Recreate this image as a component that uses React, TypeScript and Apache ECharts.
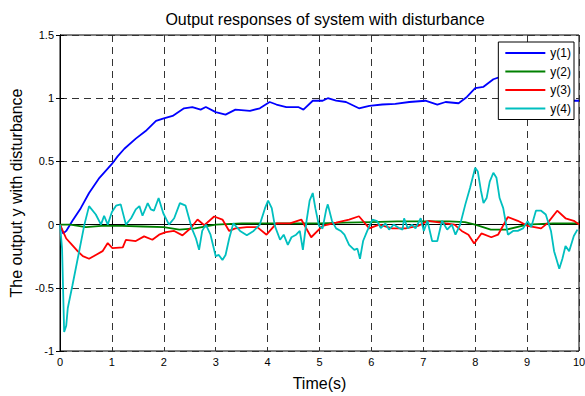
import React, { useEffect, useRef } from "react";
import * as echarts from "echarts";

const seriesNames = ["y(1)", "y(2)", "y(3)", "y(4)"];
const seriesColors = ["#0000ff", "#008000", "#ff0000", "#00bfbf"];
const xTicks = [0, 1, 2, 3, 4, 5, 6, 7, 8, 9, 10];
const yTicks = [-1, -0.5, 0, 0.5, 1, 1.5];

const t1 = [0, 0.06, 0.12, 0.24, 0.4, 0.56, 0.76, 1.0, 1.11, 1.24, 1.46, 1.65, 1.85, 2.0, 2.17, 2.39, 2.55, 2.71, 2.81, 3.0, 3.19, 3.38, 3.66, 3.85, 4.04, 4.17, 4.36, 4.59, 4.69, 4.87, 5.06, 5.16, 5.32, 5.51, 5.76, 5.96, 6.21, 6.46, 6.73, 7.04, 7.27, 7.43, 7.68, 7.84, 8.0, 8.16, 8.35, 8.5, 8.7, 9.0, 9.3, 9.6, 9.8, 10];
const y1 = [0, -0.07, -0.05, 0.03, 0.13, 0.25, 0.37, 0.48, 0.54, 0.6, 0.68, 0.74, 0.82, 0.84, 0.86, 0.92, 0.93, 0.91, 0.93, 0.89, 0.87, 0.91, 0.9, 0.92, 0.97, 0.95, 0.93, 0.93, 0.91, 0.98, 0.98, 1.0, 0.98, 0.97, 0.92, 0.94, 0.95, 0.955, 0.97, 0.98, 0.95, 0.97, 0.96, 1.01, 1.08, 1.09, 1.15, 1.17, 1.15, 1.12, 1.07, 1.02, 0.98, 0.98];

const t2 = [0, 0.2, 0.5, 0.8, 1.2, 1.6, 2.0, 2.3, 2.6, 3.0, 3.5, 4.0, 4.5, 5.0, 5.5, 6.0, 6.5, 7.0, 7.5, 7.8, 8.0, 8.3, 8.6, 9.0, 9.5, 10];
const y2 = [0, 0.0, -0.02, -0.01, -0.01, -0.015, -0.02, -0.04, -0.03, 0.0, 0.01, 0.01, 0.01, 0.01, 0.015, 0.02, 0.025, 0.025, 0.025, 0.02, 0.0, -0.04, -0.04, 0.0, 0.01, 0.01];

const t3 = [0, 0.12, 0.21, 0.34, 0.44, 0.56, 0.69, 0.82, 0.92, 1.01, 1.21, 1.27, 1.46, 1.62, 1.78, 1.91, 2.04, 2.2, 2.36, 2.52, 2.65, 2.78, 2.97, 3.13, 3.26, 3.38, 3.6, 3.8, 3.98, 4.17, 4.43, 4.65, 4.84, 5.06, 5.32, 5.57, 5.76, 5.96, 6.15, 6.4, 6.66, 6.9, 7.1, 7.43, 7.6, 7.74, 7.87, 7.98, 8.12, 8.31, 8.44, 8.63, 8.82, 9.01, 9.27, 9.39, 9.58, 9.74, 9.9, 10];
const y3 = [0, -0.11, -0.15, -0.21, -0.25, -0.27, -0.24, -0.21, -0.146, -0.186, -0.18, -0.12, -0.13, -0.093, -0.12, -0.08, -0.06, -0.05, -0.085, -0.027, 0.04, -0.005, 0.064, 0.04, -0.05, -0.03, -0.02, -0.02, -0.08, 0.01, 0.01, 0.04, -0.1, -0.01, 0.015, 0.04, 0.066, -0.03, 0.0, -0.03, -0.03, -0.01, 0.03, 0.01, 0.0, -0.05, -0.08, -0.15, -0.07, -0.1, -0.08, 0.06, 0.03, -0.01, -0.03, 0.01, 0.11, 0.05, 0.03, 0.0];

const t4 = [0, 0.04, 0.08, 0.12, 0.15, 0.24, 0.37, 0.47, 0.56, 0.69, 0.79, 0.85, 0.92, 1.0, 1.08, 1.17, 1.27, 1.37, 1.46, 1.53, 1.59, 1.69, 1.75, 1.81, 1.9, 1.99, 2.1, 2.2, 2.31, 2.42, 2.54, 2.62, 2.68, 2.74, 2.81, 2.9, 3.0, 3.06, 3.13, 3.19, 3.26, 3.34, 3.47, 3.6, 3.73, 3.85, 3.95, 4.01, 4.08, 4.14, 4.24, 4.31, 4.39, 4.46, 4.55, 4.62, 4.68, 4.75, 4.81, 4.87, 4.92, 4.99, 5.06, 5.13, 5.16, 5.24, 5.32, 5.41, 5.48, 5.57, 5.67, 5.73, 5.78, 5.84, 5.92, 6.02, 6.11, 6.18, 6.27, 6.34, 6.43, 6.53, 6.6, 6.63, 6.7, 6.78, 6.85, 6.95, 7.01, 7.08, 7.17, 7.27, 7.36, 7.46, 7.55, 7.62, 7.71, 7.81, 7.9, 8.0, 8.05, 8.11, 8.16, 8.22, 8.28, 8.35, 8.41, 8.47, 8.54, 8.63, 8.73, 8.82, 8.92, 9.01, 9.08, 9.17, 9.27, 9.36, 9.46, 9.52, 9.62, 9.68, 9.74, 9.81, 9.9, 9.97];
const y4 = [0, -0.19, -0.85, -0.8, -0.66, -0.48, -0.21, 0.0, 0.146, 0.08, 0.0, 0.07, 0.0, 0.1, 0.15, 0.16, 0.0, 0.05, 0.12, 0.146, 0.07, 0.17, 0.12, 0.11, 0.21, 0.09, 0.0, 0.05, 0.17, 0.15, -0.03, -0.11, -0.2, -0.05, 0.0, -0.08, -0.25, -0.24, -0.28, -0.24, -0.11, 0.01, -0.05, -0.085, -0.05, 0.0, 0.13, 0.19, 0.13, -0.01, -0.12, -0.08, -0.16, -0.1, -0.08, -0.05, -0.2, 0.027, 0.19, 0.25, 0.13, -0.01, -0.03, 0.12, 0.16, 0.03, -0.03, -0.05, -0.08, -0.16, -0.2, -0.19, -0.27, -0.13, -0.05, 0.04, 0.027, -0.027, 0.01, -0.04, 0.0, -0.027, -0.04, 0.05, -0.03, 0.0, -0.03, 0.05, -0.05, 0.03, -0.13, -0.13, 0.03, -0.04, 0.0, -0.08, 0.0, 0.16, 0.29, 0.45, 0.42, 0.27, 0.17, 0.21, 0.34, 0.41, 0.37, 0.21, 0.13, -0.08, -0.05, -0.05, -0.03, 0.027, -0.02, 0.11, 0.11, 0.08, -0.05, -0.21, -0.35, -0.27, -0.17, -0.21, -0.09, -0.04];

const times = [t1, t2, t3, t4];
const values = [y1, y2, y3, y4];

export default function App() {
  const ref = useRef<HTMLDivElement>(null);
  useEffect(() => {
    if (!ref.current) return;
    const chart = echarts.init(ref.current, null, { renderer: "svg" });
    const font = "'Liberation Sans', Arial, sans-serif";
    const gridLine = { show: true, lineStyle: { color: "#333", type: [7, 5] as any, width: 1 } };
    chart.setOption({
      animation: false,
      backgroundColor: "#fff",
      textStyle: { fontFamily: font },
      title: {
        text: "Output responses of system with disturbance",
        left: 320,
        textAlign: "center",
        top: 6,
        textStyle: { fontFamily: font, fontSize: 16, fontWeight: "normal", color: "#000" },
      },
      legend: {
        orient: "vertical",
        right: 11,
        top: 42,
        backgroundColor: "#fff",
        borderColor: "#000",
        borderWidth: 1,
        borderRadius: 0,
        padding: [4, 3, 4, 7],
        itemGap: 4.5,
        itemWidth: 40,
        itemHeight: 2,
        icon: "rect",
        textStyle: { fontFamily: font, fontSize: 12, color: "#000", lineHeight: 14 },
        data: seriesNames.map((n) => ({ name: n, icon: "rect" })),
        z: 10,
      },
      grid: { left: 60, right: 6, top: 35, bottom: 45, show: true, borderColor: "#000", borderWidth: 1, backgroundColor: "transparent", outerBoundsMode: "none", containLabel: false },
      xAxis: [
        {
          type: "value",
          min: xTicks[0],
          max: xTicks[xTicks.length - 1],
          interval: 1,
          name: "Time(s)",
          nameLocation: "middle",
          nameGap: 24,
          nameTextStyle: { fontFamily: font, fontSize: 16, color: "#000" },
          axisLine: { show: true, lineStyle: { color: "#000" } },
          axisTick: { show: true, inside: true, length: 4, lineStyle: { color: "#000" } },
          axisLabel: { color: "#000", fontSize: 11, fontFamily: font, margin: 5 },
          splitLine: gridLine,
        },
        {
          type: "value",
          position: "top",
          min: xTicks[0],
          max: xTicks[xTicks.length - 1],
          interval: 1,
          axisLine: { show: true, lineStyle: { color: "#000" } },
          axisTick: { show: true, inside: true, length: 4, lineStyle: { color: "#000" } },
          axisLabel: { show: false },
          splitLine: { show: false },
        },
      ],
      yAxis: [
        {
          type: "value",
          min: yTicks[0],
          max: yTicks[yTicks.length - 1],
          interval: 0.5,
          name: "The output y with disturbance",
          nameLocation: "middle",
          nameGap: 36,
          nameTextStyle: { fontFamily: font, fontSize: 16, color: "#000" },
          axisLine: { show: true, lineStyle: { color: "#000" } },
          axisTick: { show: true, inside: true, length: 4, lineStyle: { color: "#000" } },
          axisLabel: { color: "#000", fontSize: 11, fontFamily: font, margin: 6 },
          splitLine: gridLine,
        },
        {
          type: "value",
          position: "right",
          min: yTicks[0],
          max: yTicks[yTicks.length - 1],
          interval: 0.5,
          axisLine: { show: true, lineStyle: { color: "#000" } },
          axisTick: { show: true, inside: true, length: 4, lineStyle: { color: "#000" } },
          axisLabel: { show: false },
          splitLine: { show: false },
        },
      ],
      series: seriesNames.map((name, i) => ({
        name,
        type: "line",
        symbol: "none",
        showSymbol: false,
        color: seriesColors[i],
        lineStyle: { color: seriesColors[i], width: 1.8 },
        data: times[i].map((t, j) => [t, values[i][j]]),
        z: 3 + i,
      })),
    });
    return () => chart.dispose();
  }, []);
  return <div ref={ref} style={{ width: 585, height: 396, position: "absolute", left: 0, top: 0 }} />;
}
